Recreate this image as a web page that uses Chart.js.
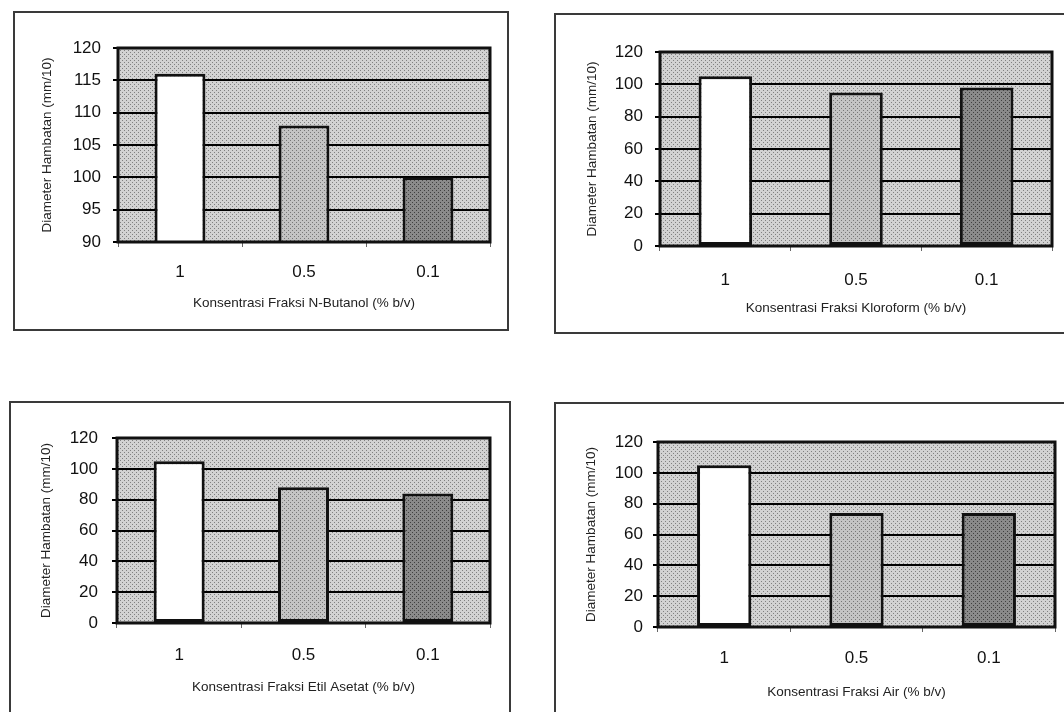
<!DOCTYPE html>
<html>
<head>
<meta charset="utf-8">
<script src="https://cdn.jsdelivr.net/npm/chart.js@4.4.1/dist/chart.umd.min.js"></script>
<style>
    body { margin: 0; width: 1064px; height: 712px; overflow: hidden; background: #fff; position: relative; }
    .box { position: absolute; border: 2px solid #3a3a3a; box-sizing: border-box; }
    canvas { position: absolute; }
</style>
</head>
<body>
<div class="box" style="left:13px;top:11px;width:496px;height:320px"></div>
<div class="box" style="left:554px;top:13px;width:530px;height:321px"></div>
<div class="box" style="left:9px;top:401px;width:502px;height:330px"></div>
<div class="box" style="left:554px;top:402px;width:530px;height:330px"></div>
<canvas id="c1" width="494" height="318" style="left:14px;top:12px"></canvas>
<canvas id="c2" width="520" height="319" style="left:555px;top:14px"></canvas>
<canvas id="c3" width="500" height="318" style="left:10px;top:402px"></canvas>
<canvas id="c4" width="520" height="317" style="left:555px;top:403px"></canvas>
<script>
//data
const categories = ['1', '0.5', '0.1'];
const butanolValues = [116, 108, 100];
const kloroformValues = [105, 95, 98];
const etilAsetatValues = [105, 88, 84];
const airValues = [105, 74, 74];

const butanolRange = { min: 90, max: 120, step: 5 };
const otherRange = { min: 0, max: 120, step: 20 };

const yTitle = 'Diameter Hambatan (mm/10)';
const xTitles = [
    'Konsentrasi Fraksi N-Butanol (% b/v)',
    'Konsentrasi Fraksi Kloroform (% b/v)',
    'Konsentrasi Fraksi Etil Asetat (% b/v)',
    'Konsentrasi Fraksi Air (% b/v)'
];

const FONT = "'Liberation Sans', Arial, sans-serif";

//stipple fills like the scanned print
function dotPattern(base, dot, step) {
    const c = document.createElement('canvas');
    c.width = step * 2;
    c.height = step * 2;
    const g = c.getContext('2d');
    g.fillStyle = base;
    g.fillRect(0, 0, c.width, c.height);
    g.fillStyle = dot;
    g.fillRect(0, 0, 1, 1);
    g.fillRect(step, step, 1, 1);
    return g.createPattern(c, 'repeat');
}

const plotBg = dotPattern('#d2d2d2', '#808080', 2);
const barFills = [
    '#ffffff',
    dotPattern('#c4c4c4', '#777777', 2),
    dotPattern('#8a8a8a', '#404040', 2)
];

const plotFrame = {
    id: 'plotFrame',
    beforeDraw(chart) {
        const { ctx, chartArea: a } = chart;
        ctx.save();
        ctx.fillStyle = plotBg;
        ctx.fillRect(a.left, a.top, a.width, a.height);
        ctx.restore();
    },
    afterDatasetsDraw(chart) {
        const { ctx, chartArea: a } = chart;
        ctx.save();
        ctx.strokeStyle = '#111';
        ctx.lineWidth = 3;
        ctx.strokeRect(a.left, a.top, a.width, a.height);
        ctx.restore();
    }
};

//per-chart layout (px inside each canvas)
const layouts = [
    { id: 'c1', values: butanolValues, range: butanolRange, title: xTitles[0], yWidth: 104, xHeight: 88, top: 36, right: 18, tickPad: 15, titlePad: 19, yTitlePad: 25, yTickPad: 12 },
    { id: 'c2', values: kloroformValues, range: otherRange, title: xTitles[1], yWidth: 105, xHeight: 87, top: 38, right: 23, tickPad: 19, titlePad: 17, yTitlePad: 29, yTickPad: 12 },
    { id: 'c3', values: etilAsetatValues, range: otherRange, title: xTitles[2], yWidth: 107, xHeight: 97, top: 36, right: 20, tickPad: 17, titlePad: 25, yTitlePad: 28, yTickPad: 14 },
    { id: 'c4', values: airValues, range: otherRange, title: xTitles[3], yWidth: 103, xHeight: 93, top: 39, right: 20, tickPad: 16, titlePad: 20, yTitlePad: 28, yTickPad: 10 }
];

function makeChart(l) {
    const ctx = document.getElementById(l.id).getContext('2d');
    return new Chart(ctx, {
        type: 'bar',
        data: {
            labels: categories,
            datasets: [{
                data: l.values,
                backgroundColor: barFills,
                borderColor: '#111',
                borderWidth: 3,
                borderSkipped: false,
                barPercentage: 0.41,
                categoryPercentage: 1
            }]
        },
        options: {
            responsive: false,
            animation: false,
            devicePixelRatio: 1,
            layout: { padding: { top: l.top, right: l.right, left: 0, bottom: 0 } },
            plugins: {
                legend: { display: false },
                tooltip: { enabled: false }
            },
            scales: {
                x: {
                    offset: true,
                    grid: { offset: true, drawOnChartArea: false, tickLength: 5, color: '#666', lineWidth: 1 },
                    border: { display: false },
                    ticks: { color: '#111', padding: l.tickPad, font: { family: FONT, size: 17 } },
                    title: {
                        display: true,
                        text: l.title,
                        color: '#222',
                        padding: { top: 0, bottom: l.titlePad },
                        font: { family: FONT, size: 13.5 }
                    },
                    afterFit: (s) => { s.height = l.xHeight; }
                },
                y: {
                    min: l.range.min,
                    max: l.range.max,
                    grid: { color: '#000', lineWidth: 2, tickLength: 5 },
                    border: { display: false },
                    ticks: {
                        stepSize: l.range.step,
                        color: '#111',
                        padding: l.yTickPad,
                        font: { family: FONT, size: 17 }
                    },
                    title: {
                        display: true,
                        text: yTitle,
                        color: '#222',
                        padding: { top: l.yTitlePad, bottom: 0 },
                        font: { family: FONT, size: 13.5 }
                    },
                    afterFit: (s) => { s.width = l.yWidth; }
                }
            }
        },
        plugins: [plotFrame]
    });
}

layouts.forEach(makeChart);
</script>
</body>
</html>
